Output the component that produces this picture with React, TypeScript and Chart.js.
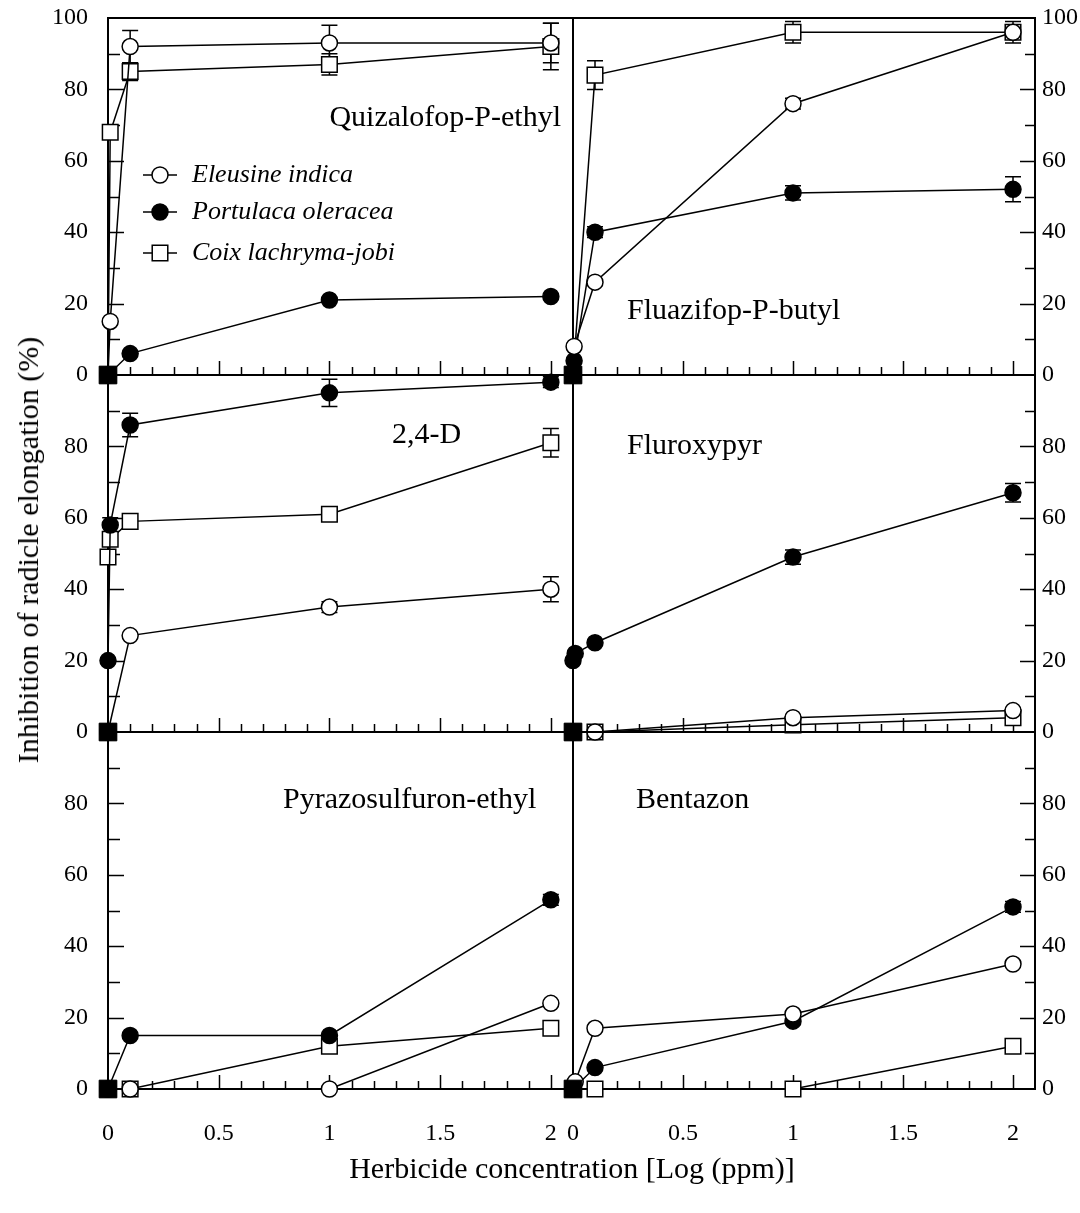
import React, { useEffect, useRef } from "react";
import { Chart, registerables } from "chart.js";
Chart.register(...registerables);

const FONT = '"Liberation Serif", "Times New Roman", serif';

const SPECIES = ["Eleusine indica", "Portulaca oleracea", "Coix lachryma-jobi"];
const HERBICIDES = ["Quizalofop-P-ethyl", "Fluazifop-P-butyl", "2,4-D", "Fluroxypyr", "Pyrazosulfuron-ethyl", "Bentazon"];

const X_TICKS = [0, 0.5, 1, 1.5, 2];
const X_TICK_LABELS = ["0", "0.5", "1", "1.5", "2"];
const Y_TICKS_TOP = [0, 20, 40, 60, 80, 100];
const Y_TICKS_LOWER = [0, 20, 40, 60, 80];

const CONTROL_X = [0];
const CONTROL_Y = [0];

// Quizalofop-P-ethyl
const quizEleusineX = [0, 0.01, 0.1, 1, 2];
const quizEleusineY = [0, 15, 92, 93, 93];
const quizEleusineE = [0, 0, 4.5, 5, 5.5];
const quizPortulacaX = [0, 0.1, 1, 2];
const quizPortulacaY = [0, 6, 21, 22];
const quizPortulacaE = [0, 0, 0, 0];
const quizCoixX = [0, 0.01, 0.1, 1, 2];
const quizCoixY = [0, 68, 85, 87, 92];
const quizCoixE = [0, 0, 2.5, 3, 6.5];

// Fluazifop-P-butyl
const flzEleusineX = [0, 0.005, 0.1, 1, 2];
const flzEleusineY = [0, 8, 26, 76, 96];
const flzEleusineE = [0, 0, 0, 1.5, 1];
const flzPortulacaX = [0, 0.005, 0.1, 1, 2];
const flzPortulacaY = [0, 4, 40, 51, 52];
const flzPortulacaE = [0, 0, 1.5, 2, 3.5];
const flzCoixX = [0, 0.1, 1, 2];
const flzCoixY = [0, 84, 96, 96];
const flzCoixE = [0, 4, 3, 3];

// 2,4-D
const d24EleusineX = [0, 0.1, 1, 2];
const d24EleusineY = [0, 27, 35, 40];
const d24EleusineE = [0, 0, 1.5, 3.5];
const d24PortulacaX = [0, 0, 0.01, 0.1, 1, 2];
const d24PortulacaY = [0, 20, 58, 86, 95, 98];
const d24PortulacaE = [0, 0, 2, 3.3, 3.8, 1.5];
const d24CoixX = [0, 0, 0.01, 0.1, 1, 2];
const d24CoixY = [0, 49, 54, 59, 61, 81];
const d24CoixE = [0, 0, 0, 0, 1.5, 4];

// Fluroxypyr
const flxEleusineX = [0, 0.1, 1, 2];
const flxEleusineY = [0, 0, 4, 6];
const flxEleusineE = [0, 0, 0, 0];
const flxPortulacaX = [0, 0, 0.01, 0.1, 1, 2];
const flxPortulacaY = [0, 20, 22, 25, 49, 67];
const flxPortulacaE = [0, 0, 0, 0, 2, 2.6];
const flxCoixX = [0, 0.1, 1, 2];
const flxCoixY = [0, 0, 2, 4];
const flxCoixE = [0, 0, 0, 0];

// Pyrazosulfuron-ethyl
const pyrEleusineX = [0, 0.1, 1, 2];
const pyrEleusineY = [0, 0, 0, 24];
const pyrEleusineE = [0, 0, 0, 0];
const pyrPortulacaX = [0, 0.1, 1, 2];
const pyrPortulacaY = [0, 15, 15, 53];
const pyrPortulacaE = [0, 0, 0, 1.5];
const pyrCoixX = [0, 0.1, 1, 2];
const pyrCoixY = [0, 0, 12, 17];
const pyrCoixE = [0, 0, 0, 0];

// Bentazon
const benEleusineX = [0, 0.01, 0.1, 1, 2];
const benEleusineY = [0, 2, 17, 21, 35];
const benEleusineE = [0, 0, 0, 0, 1];
const benPortulacaX = [0, 0.1, 1, 2];
const benPortulacaY = [0, 6, 19, 51];
const benPortulacaE = [0, 0, 0, 1.5];
const benCoixX = [0, 0.1, 1, 2];
const benCoixY = [0, 0, 0, 12];
const benCoixE = [0, 0, 0, 0];

type Series = { x: number[]; y: number[]; e: number[] };
type Panel = {
  name: string;
  series: Series[];
  area: { l: number; t: number; r: number; b: number };
  side: "left" | "right";
  yTicks: number[];
  showX: boolean;
  label: { x: number; y: number; align: CanvasTextAlign };
  legend: boolean;
};

const STYLES = [
  { pointStyle: "circle", radius: 8, fill: "#fff" },
  { pointStyle: "circle", radius: 8, fill: "#000" },
  { pointStyle: "rect", radius: 11, fill: "#fff" },
];

const PANELS: Panel[] = [
  {
    name: HERBICIDES[0],
    series: [
      { x: quizEleusineX, y: quizEleusineY, e: quizEleusineE },
      { x: quizPortulacaX, y: quizPortulacaY, e: quizPortulacaE },
      { x: quizCoixX, y: quizCoixY, e: quizCoixE },
    ],
    area: { l: 108, t: 18, r: 573, b: 375 },
    side: "left",
    yTicks: Y_TICKS_TOP,
    showX: false,
    label: { x: 561, y: 118, align: "right" },
    legend: true,
  },
  {
    name: HERBICIDES[1],
    series: [
      { x: flzEleusineX, y: flzEleusineY, e: flzEleusineE },
      { x: flzPortulacaX, y: flzPortulacaY, e: flzPortulacaE },
      { x: flzCoixX, y: flzCoixY, e: flzCoixE },
    ],
    area: { l: 573, t: 18, r: 1035, b: 375 },
    side: "right",
    yTicks: Y_TICKS_TOP,
    showX: false,
    label: { x: 627, y: 311, align: "left" },
    legend: false,
  },
  {
    name: HERBICIDES[2],
    series: [
      { x: d24EleusineX, y: d24EleusineY, e: d24EleusineE },
      { x: d24PortulacaX, y: d24PortulacaY, e: d24PortulacaE },
      { x: d24CoixX, y: d24CoixY, e: d24CoixE },
    ],
    area: { l: 108, t: 375, r: 573, b: 732 },
    side: "left",
    yTicks: Y_TICKS_LOWER,
    showX: false,
    label: { x: 392, y: 435, align: "left" },
    legend: false,
  },
  {
    name: HERBICIDES[3],
    series: [
      { x: flxEleusineX, y: flxEleusineY, e: flxEleusineE },
      { x: flxPortulacaX, y: flxPortulacaY, e: flxPortulacaE },
      { x: flxCoixX, y: flxCoixY, e: flxCoixE },
    ],
    area: { l: 573, t: 375, r: 1035, b: 732 },
    side: "right",
    yTicks: Y_TICKS_LOWER,
    showX: false,
    label: { x: 627, y: 446, align: "left" },
    legend: false,
  },
  {
    name: HERBICIDES[4],
    series: [
      { x: pyrEleusineX, y: pyrEleusineY, e: pyrEleusineE },
      { x: pyrPortulacaX, y: pyrPortulacaY, e: pyrPortulacaE },
      { x: pyrCoixX, y: pyrCoixY, e: pyrCoixE },
    ],
    area: { l: 108, t: 732, r: 573, b: 1089 },
    side: "left",
    yTicks: Y_TICKS_LOWER,
    showX: true,
    label: { x: 283, y: 800, align: "left" },
    legend: false,
  },
  {
    name: HERBICIDES[5],
    series: [
      { x: benEleusineX, y: benEleusineY, e: benEleusineE },
      { x: benPortulacaX, y: benPortulacaY, e: benPortulacaE },
      { x: benCoixX, y: benCoixY, e: benCoixE },
    ],
    area: { l: 573, t: 732, r: 1035, b: 1089 },
    side: "right",
    yTicks: Y_TICKS_LOWER,
    showX: true,
    label: { x: 636, y: 800, align: "left" },
    legend: false,
  },
];

const W = 1080;
const H = 1213;
const Y_AXIS_W = 70;
const X_AXIS_H = 60;

function drawMarker(ctx: CanvasRenderingContext2D, idx: number, x: number, y: number) {
  const s = STYLES[idx];
  ctx.save();
  ctx.lineWidth = 1.5;
  ctx.strokeStyle = "#000";
  ctx.fillStyle = s.fill;
  ctx.beginPath();
  if (s.pointStyle === "circle") {
    ctx.arc(x, y, s.radius, 0, Math.PI * 2);
  } else {
    const h = s.radius * Math.SQRT1_2;
    ctx.rect(x - h, y - h, 2 * h, 2 * h);
  }
  ctx.fill();
  ctx.stroke();
  ctx.restore();
}

function zeroPad(s: any) {
  s.paddingTop = 0;
  s.paddingBottom = 0;
  s.paddingLeft = 0;
  s.paddingRight = 0;
}

function buildConfig(p: Panel): any {
  const datasets: any[] = [
    {
      data: CONTROL_X.map((x, i) => ({ x, y: CONTROL_Y[i] })),
      showLine: false,
      pointStyle: "rect",
      pointRadius: 12.5,
      pointBackgroundColor: "#000",
      pointBorderColor: "#000",
      pointBorderWidth: 1,
      clip: false,
      errors: [],
    },
  ];
  p.series.forEach((s, i) => {
    const st = STYLES[i];
    datasets.push({
      label: SPECIES[i],
      data: s.x.map((x, j) => ({ x, y: s.y[j] })),
      borderColor: "#000",
      borderWidth: 1.5,
      pointStyle: st.pointStyle,
      pointRadius: st.radius,
      pointBackgroundColor: st.fill,
      pointBorderColor: "#000",
      pointBorderWidth: 1.5,
      tension: 0,
      clip: false,
      errors: s.e,
    });
  });

  const { l, t, r, b } = p.area;
  const padding =
    p.side === "left"
      ? { left: l - Y_AXIS_W, right: W - r, top: t, bottom: H - b - X_AXIS_H }
      : { left: l, right: W - r - Y_AXIS_W, top: t, bottom: H - b - X_AXIS_H };

  const framePlugin = {
    id: "frame",
    beforeDatasetsDraw(chart: any) {
      const { ctx, chartArea, scales } = chart;
      const { left, right, top, bottom } = chartArea;
      ctx.save();
      ctx.strokeStyle = "#000";
      ctx.lineWidth = 1.5;
      ctx.beginPath();
      for (let v = 10; v < 100; v += 10) {
        const py = Math.round(scales.y.getPixelForValue(v)) + 0.5;
        const major = v % 20 === 0;
        if (p.side === "left") {
          const len = major ? 16 : 12;
          ctx.moveTo(left, py);
          ctx.lineTo(left + len, py);
        } else {
          const len = major ? 15 : 10;
          ctx.moveTo(right, py);
          ctx.lineTo(right - len, py);
        }
      }
      for (let i = 1; i <= 20; i++) {
        const px = Math.round(scales.x.getPixelForValue(i / 10)) + 0.5;
        const len = i % 5 === 0 ? 14 : 8;
        ctx.moveTo(px, bottom);
        ctx.lineTo(px, bottom - len);
      }
      ctx.stroke();
      ctx.lineWidth = 2;
      ctx.strokeRect(left, top, right - left, bottom - top);
      ctx.restore();

      // error bars
      ctx.save();
      ctx.strokeStyle = "#000";
      ctx.lineWidth = 1.5;
      chart.data.datasets.forEach((ds: any) => {
        (ds.errors || []).forEach((e: number, j: number) => {
          if (!e) return;
          const pt = ds.data[j];
          const px = scales.x.getPixelForValue(pt.x);
          const y1 = scales.y.getPixelForValue(pt.y + e);
          const y2 = scales.y.getPixelForValue(pt.y - e);
          ctx.beginPath();
          ctx.moveTo(px, y1);
          ctx.lineTo(px, y2);
          ctx.moveTo(px - 8, y1);
          ctx.lineTo(px + 8, y1);
          ctx.moveTo(px - 8, y2);
          ctx.lineTo(px + 8, y2);
          ctx.stroke();
        });
      });
      ctx.restore();
    },
    afterDraw(chart: any) {
      const { ctx } = chart;
      ctx.save();
      ctx.fillStyle = "#000";
      ctx.font = `30px ${FONT}`;
      ctx.textBaseline = "middle";
      ctx.textAlign = p.label.align;
      ctx.fillText(p.name, p.label.x, p.label.y);
      if (p.legend) {
        const rows = [175, 212, 253];
        SPECIES.forEach((name, i) => {
          const y = rows[i];
          ctx.strokeStyle = "#000";
          ctx.lineWidth = 1.5;
          ctx.beginPath();
          ctx.moveTo(143, y);
          ctx.lineTo(177, y);
          ctx.stroke();
          drawMarker(ctx, i, 160, y);
          ctx.fillStyle = "#000";
          ctx.font = `italic 26px ${FONT}`;
          ctx.textAlign = "left";
          ctx.fillText(name, 192, y);
        });
      }
      ctx.restore();
    },
  };

  return {
    type: "line",
    data: { datasets },
    options: {
      animation: false,
      responsive: false,
      events: [],
      layout: { padding },
      plugins: { legend: { display: false }, tooltip: { enabled: false } },
      scales: {
        x: {
          type: "linear",
          position: "bottom",
          min: 0,
          max: 2.1,
          afterBuildTicks: (s: any) => {
            s.ticks = X_TICKS.map((v) => ({ value: v }));
          },
          afterFit: (s: any) => {
            s.height = X_AXIS_H;
            zeroPad(s);
          },
          grid: { display: false, drawTicks: false },
          border: { display: false },
          ticks: {
            display: p.showX,
            autoSkip: false,
            maxRotation: 0,
            padding: 30,
            color: "#000",
            font: { family: FONT, size: 24 },
            callback: (_v: any, i: number) => X_TICK_LABELS[i],
          },
        },
        y: {
          type: "linear",
          position: p.side,
          min: 0,
          max: 100,
          afterBuildTicks: (s: any) => {
            s.ticks = p.yTicks.map((v) => ({ value: v }));
          },
          afterFit: (s: any) => {
            s.width = Y_AXIS_W;
            zeroPad(s);
          },
          grid: { display: false, drawTicks: false },
          border: { display: false },
          ticks: {
            autoSkip: false,
            padding: p.side === "left" ? 20 : 7,
            color: "#000",
            font: { family: FONT, size: 24 },
            callback: (v: any) => String(v),
          },
        },
      },
    },
    plugins: [framePlugin],
  };
}

export default function App() {
  const refs = useRef<(HTMLCanvasElement | null)[]>([]);
  useEffect(() => {
    const charts = PANELS.map((p, i) => new Chart(refs.current[i] as HTMLCanvasElement, buildConfig(p)));
    return () => charts.forEach((c) => c.destroy());
  }, []);
  return (
    <div style={{ position: "absolute", left: 0, top: 0, width: W, height: H, background: "#fff", fontFamily: FONT }}>
      {PANELS.map((_, i) => (
        <canvas
          key={i}
          ref={(el) => {
            refs.current[i] = el;
          }}
          width={W}
          height={H}
          style={{ position: "absolute", left: 0, top: 0 }}
        />
      ))}
      <div
        style={{
          position: "absolute",
          left: 28,
          top: 550,
          transform: "translate(-50%, -50%) rotate(-90deg)",
          whiteSpace: "nowrap",
          fontSize: 30,
          color: "#000",
        }}
      >
        Inhibition of radicle elongation (%)
      </div>
      <div
        style={{
          position: "absolute",
          left: 572,
          top: 1168,
          transform: "translate(-50%, -50%)",
          whiteSpace: "nowrap",
          fontSize: 30,
          color: "#000",
        }}
      >
        Herbicide concentration [Log (ppm)]
      </div>
    </div>
  );
}
